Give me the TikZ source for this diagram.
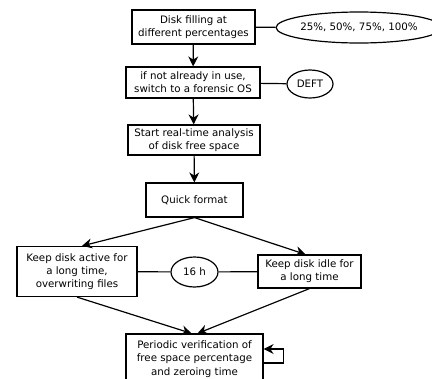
\documentclass[tikz,border=0pt]{standalone}
\usepackage{fontspec}
\setmainfont{DejaVu Sans}
\usetikzlibrary{arrows.meta,shapes.geometric}
\begin{document}
\begin{tikzpicture}[x=1bp,y=-1bp,
  every node/.style={font=\fontsize{10.3}{13.3}\selectfont, align=center, inner sep=0pt},
  box/.style={draw, line width=1.2pt},
  oval/.style={draw, ellipse, line width=1.2pt},
  conn/.style={line width=1.2pt},
  arr/.style={line width=1.2pt, -{Stealth[length=10bp,width=10bp]}}]
\useasboundingbox (0,0) rectangle (432,379);
\node[box, minimum width=123bp, minimum height=34bp] (b1) at (193.5,27) {Disk filling at\\different percentages};
\node[oval, minimum width=144bp, minimum height=31bp] (e1) at (359,27.5) {25\%, 50\%, 75\%, 100\%};
\node[box, minimum width=134bp, minimum height=31bp] (b2) at (193,82.5) {if not already in use,\\switch to a forensic OS};
\node[oval, minimum width=46bp, minimum height=28bp] (e2) at (310,84) {DEFT};
\node[box, minimum width=132bp, minimum height=30bp] (b3) at (194,140) {Start real-time analysis\\of disk free space};
\node[box, minimum width=97bp, minimum height=34bp] (b4) at (194.5,200) {Quick format};
\node[box, minimum width=120bp, minimum height=50bp] (b5) at (77,271.5) {Keep disk active for\\a long time,\\overwriting files};
\node[oval, minimum width=47bp, minimum height=30bp] (e3) at (194.5,272) {16 h};
\node[box, minimum width=103bp, minimum height=33bp] (b6) at (309.5,271.5) {Keep disk idle for\\a long time};
\node[box, minimum width=137bp, minimum height=50bp] (b7) at (194.5,359) {Periodic verification of\\free space percentage\\and zeroing time};
\draw[conn] (b1) -- (e1);
\draw[conn] (b2) -- (e2);
\draw[conn] (b5) -- (e3);
\draw[conn] (e3) -- (b6);
\draw[arr] (b1) -- (b2);
\draw[arr] (b2) -- (b3);
\draw[arr] (b3) -- (b4);
\draw[arr] (b4.south) -- ([xshift=5bp]b5.north);
\draw[arr] (b4.south) -- ([xshift=-4bp]b6.north);
\draw[arr] (b5.south) -- ([xshift=-3bp]b7.north);
\draw[arr] (b6.south) -- ([xshift=3bp]b7.north);
\coordinate (l1) at ([xshift=20bp,yshift=-4bp]b7.east);
\coordinate (l2) at ([xshift=20bp,yshift=10bp]b7.east);
\draw[arr] ([yshift=-4bp]b7.east) -- (l1) -- (l2) -- ([yshift=10bp]b7.east);
\end{tikzpicture}
\end{document}
